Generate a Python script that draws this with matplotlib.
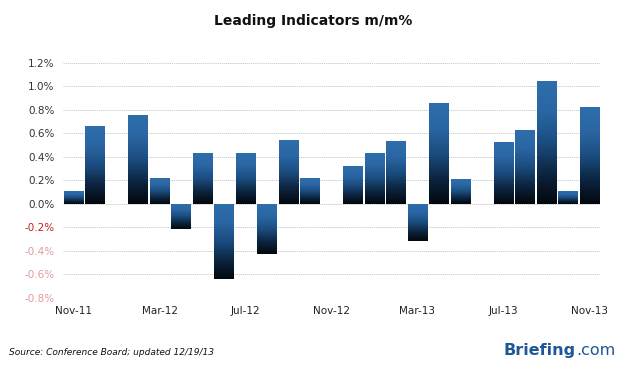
import numpy as np
import matplotlib.pyplot as plt
from matplotlib.colors import LinearSegmentedColormap

# datos (m/m %)
months = ['Nov-11', 'Dec-11', 'Jan-12', 'Feb-12', 'Mar-12', 'Apr-12', 'May-12',
          'Jun-12', 'Jul-12', 'Aug-12', 'Sep-12', 'Oct-12', 'Nov-12', 'Dec-12',
          'Jan-13', 'Feb-13', 'Mar-13', 'Apr-13', 'May-13', 'Jun-13', 'Jul-13',
          'Aug-13', 'Sep-13', 'Oct-13', 'Nov-13']
values = [0.11, 0.66, 0.0, 0.76, 0.22, -0.215, 0.43, -0.64, 0.43, -0.425, 0.54,
          0.22, 0.0, 0.32, 0.43, 0.535, -0.315, 0.86, 0.21, 0.0, 0.53, 0.63,
          1.045, 0.11, 0.82]
yticks = [-0.8, -0.6, -0.4, -0.2, 0.0, 0.2, 0.4, 0.6, 0.8, 1.0, 1.2]
xtick_idx = [0, 4, 8, 12, 16, 20, 24]

fig = plt.figure(figsize=(6.26, 3.67), dpi=100)
ax = fig.add_axes([0.1006, 0.188, 0.8579, 0.641])

x = np.arange(len(months))
bars = ax.bar(x, values, width=0.91, color='none', edgecolor='none', zorder=3)

# degradado azul -> negro en cada barra
cmap = LinearSegmentedColormap.from_list(
    'brf', ['#03070d', '#0c2540', '#1b4d80', '#2a66a3', '#2e6eac'])
grad = np.linspace(0, 1, 256).reshape(-1, 1)
for b, v in zip(bars, values):
    if v == 0:
        continue
    x0, w = b.get_x(), b.get_width()
    y0, h = b.get_y(), b.get_height()
    lo, hi = min(y0, y0 + h), max(y0, y0 + h)
    im = ax.imshow(grad, extent=[x0, x0 + w, lo, hi], origin='lower',
                   cmap=cmap, aspect='auto', zorder=3)
    im.set_clip_path(b)

ax.set_xlim(-0.5, len(months) - 0.5)
ax.set_ylim(-0.8, 1.2)

ax.set_yticks(yticks)
ax.set_yticklabels([f'{t:.1f}%' for t in yticks], fontsize=7.5)
for lbl, t in zip(ax.get_yticklabels(), yticks):
    if t < -0.3:
        lbl.set_color('#e59a9a')
    elif t < 0:
        lbl.set_color('#c0201e')
    else:
        lbl.set_color('#333333')

ax.set_xticks(xtick_idx)
ax.set_xticklabels([months[i] for i in xtick_idx], fontsize=7.5, color='#222222')
ax.tick_params(length=0, pad=6)

ax.grid(axis='y', color='#c4c4c4', linestyle=(0, (1.5, 1)), linewidth=0.6, zorder=0)
ax.set_axisbelow(True)
for s in ax.spines.values():
    s.set_visible(False)

fig.text(0.5, 0.943, 'Leading Indicators m/m%', ha='center', va='center',
         fontsize=10, fontweight='bold', color='#111111')
fig.text(0.015, 0.04, 'Source: Conference Board; updated 12/19/13', ha='left',
         va='center', fontsize=6.5, style='italic', color='#111111')
t1 = fig.text(0.805, 0.045, 'Briefing', ha='left', va='center', fontsize=11.5,
              fontweight='bold', color='#1e5796')
fig.canvas.draw()
bb = t1.get_window_extent()
fig.text(bb.x1 / fig.dpi / 6.26, 0.045, '.com', ha='left', va='center',
         fontsize=11.5, color='#1e5796')

plt.savefig('out.png', dpi=100)
